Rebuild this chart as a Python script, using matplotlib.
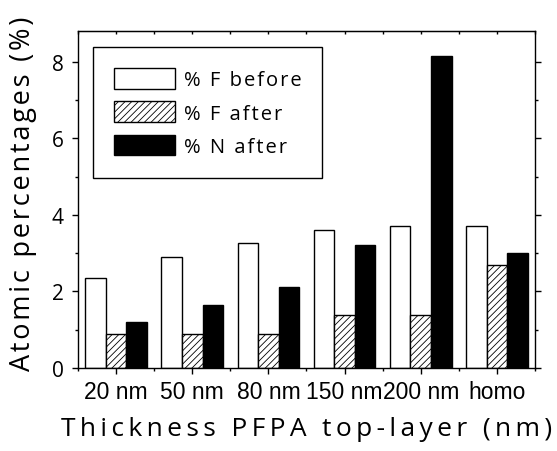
import matplotlib
matplotlib.use("Agg")
import matplotlib.pyplot as plt
import numpy as np
from matplotlib.ticker import MultipleLocator

# data
groups = ["20 nm", "50 nm", "80 nm", "150 nm", "200 nm", "homo"]
f_before = [2.36, 2.91, 3.26, 3.61, 3.71, 3.71]
f_after = [0.89, 0.89, 0.89, 1.39, 1.39, 2.69]
n_after = [1.20, 1.65, 2.11, 3.21, 8.15, 3.01]
series_labels = ["% F before", "% F after", "% N after"]
xlabel = "Thickness PFPA top-layer (nm)"
ylabel = "Atomic percentages (%)"

plt.rcParams['font.family'] = ['Open Sans', 'DejaVu Sans']
plt.rcParams['hatch.linewidth'] = 0.6

SEPS = ["", "\u200a", "\u2006", "\u2009", "\u2005", "\u2009\u200a", "\u2009\u2009"]


def fit_spacing(fig, txt, raw, target_px):
    # widen letter spacing of a text until it is about target_px long
    r = fig.canvas.get_renderer()
    best = None
    for sep in SEPS:
        txt.set_text(sep.join(raw))
        bb = txt.get_window_extent(r)
        length = max(bb.width, bb.height)
        if best is None or abs(length - target_px) < best[0]:
            best = (abs(length - target_px), sep)
    txt.set_text(best[1].join(raw))


fig = plt.figure(figsize=(5.57, 4.52), dpi=100)
ax = fig.add_axes([0.140, 0.1836, 0.8205, 0.7454])

x = np.arange(len(groups))
w = 0.27
ax.bar(x - w, f_before, w, color="white", edgecolor="black", linewidth=1.0, label=series_labels[0])
ax.bar(x, f_after, w, color="white", edgecolor="black", linewidth=1.0, hatch="/////", label=series_labels[1])
ax.bar(x + w, n_after, w, color="black", edgecolor="black", linewidth=1.0, label=series_labels[2])

ax.set_xlim(-0.5, 5.5)
ax.set_ylim(0, 8.8)
ax.set_xticks(x)
ax.set_xticklabels(groups, fontfamily="Liberation Sans")
ax.xaxis.set_minor_locator(MultipleLocator(0.5))
ax.yaxis.set_major_locator(MultipleLocator(2))
ax.yaxis.set_minor_locator(MultipleLocator(1))

ax.tick_params(axis="x", which="major", direction="out", length=4.5, width=1, labelsize=16.5, pad=4)
ax.tick_params(axis="x", which="minor", direction="out", length=2.5, width=1)
ax.tick_params(axis="y", which="major", direction="out", length=4.5, width=1, labelsize=15, pad=6, right=True)
ax.tick_params(axis="y", which="minor", direction="out", length=2.5, width=1, right=True)

top = ax.secondary_xaxis("top")
top.set_xticks(np.arange(-0.5, 5.51, 0.5))
top.tick_params(direction="in", length=2.5, width=1, labeltop=False)

for s in ax.spines.values():
    s.set_linewidth(1.0)

xl = ax.set_xlabel(xlabel, fontsize=19)
ax.xaxis.set_label_coords(0.5, -0.142)
yl = ax.set_ylabel(ylabel, fontsize=19.5)
ax.yaxis.set_label_coords(-0.09, 0.52)

leg = ax.legend(loc="upper left", bbox_to_anchor=(0.033, 0.9525), borderaxespad=0,
                fontsize=14.5, handlelength=3.0, handleheight=1.2, handletextpad=0.45,
                labelspacing=0.55, borderpad=1.05, fancybox=False, framealpha=1)
leg.get_frame().set_edgecolor("black")
leg.get_frame().set_linewidth(1.0)

fit_spacing(fig, xl, xlabel, 490)
fit_spacing(fig, yl, ylabel, 355)
for t, lab, tw in zip(leg.get_texts(), series_labels, [120, 96, 100]):
    fit_spacing(fig, t, lab, tw)

fig.savefig("out.png", dpi=100)
